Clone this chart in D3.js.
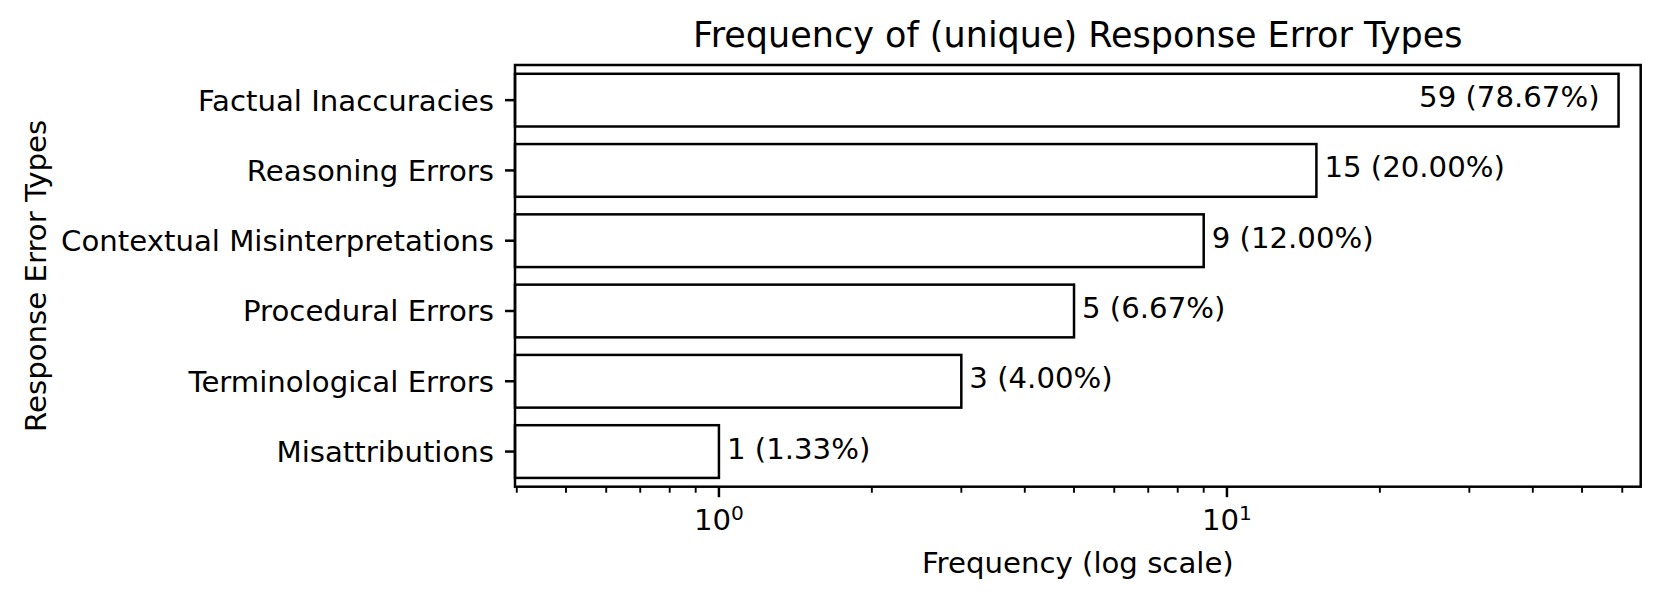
<!DOCTYPE html>
<html>
<head>
<meta charset="utf-8">
<script src="https://cdn.jsdelivr.net/npm/d3@7"></script>
<style>
  html, body { margin: 0; padding: 0; background: #fff; }
  svg text { font-family: "DejaVu Sans", sans-serif; fill: #000; }
</style>
</head>
<body>
<svg id="chart" width="1662" height="600"></svg>
<script>
const categories = ["Factual Inaccuracies", "Reasoning Errors", "Contextual Misinterpretations",
                    "Procedural Errors", "Terminological Errors", "Misattributions"];
const counts = [59, 15, 9, 5, 3, 1];
const percents = ["78.67%", "20.00%", "12.00%", "6.67%", "4.00%", "1.33%"];
const xDomain = [0.3968, 65.23];
const majorTicks = [1, 10];
const majorExponents = ["0", "1"];
const titleText = "Frequency of (unique) Response Error Types";
const xLabelText = "Frequency (log scale)";
const yLabelText = "Response Error Types";

const svg = d3.select("#chart");
const L = 515, R = 1640.7, T = 65, B = 486.7;
const FS = 29.2;
const SW = 2.5;

const x = d3.scaleLog().domain(xDomain).range([L, R]);
const y = d3.scaleBand().domain(categories).range([T, B]).paddingInner(0.25).paddingOuter(0.125);

// bars
svg.append("g").selectAll("rect").data(categories).join("rect")
  .attr("x", x(xDomain[0]))
  .attr("y", d => y(d))
  .attr("width", (d, i) => x(counts[i]) - x(xDomain[0]))
  .attr("height", y.bandwidth())
  .attr("fill", "#fff")
  .attr("stroke", "#000")
  .attr("stroke-width", SW);

// annotations
svg.append("g").selectAll("text").data(categories).join("text")
  .attr("x", (d, i) => i === 0 ? x(counts[i]) - 19 : x(counts[i]) + 8)
  .attr("y", d => y(d) + y.bandwidth() / 2 + 7)
  .attr("text-anchor", (d, i) => i === 0 ? "end" : "start")
  .attr("font-size", FS)
  .text((d, i) => `${counts[i]} (${percents[i]})`);

// frame
svg.append("rect").attr("x", L).attr("y", T).attr("width", R - L).attr("height", B - T)
  .attr("fill", "none").attr("stroke", "#000").attr("stroke-width", SW);

// y ticks
const yc = d => y(d) + y.bandwidth() / 2;
const gy = svg.append("g");
gy.selectAll("line").data(categories).join("line")
  .attr("x1", L - 10).attr("x2", L).attr("y1", yc).attr("y2", yc)
  .attr("stroke", "#000").attr("stroke-width", SW);
gy.selectAll("text").data(categories).join("text")
  .attr("x", 494).attr("y", d => yc(d) + 10.5)
  .attr("text-anchor", "end").attr("font-size", FS)
  .text(d => d);

// x ticks
const minor = x.ticks().filter(v => majorTicks.indexOf(v) < 0 && v >= xDomain[0] && v <= xDomain[1]);
const gx = svg.append("g");
gx.selectAll("line.minor").data(minor).join("line").attr("class", "minor")
  .attr("x1", d => x(d)).attr("x2", d => x(d)).attr("y1", B).attr("y2", B + 6)
  .attr("stroke", "#000").attr("stroke-width", 1.9);
gx.selectAll("line.major").data(majorTicks).join("line").attr("class", "major")
  .attr("x1", d => x(d)).attr("x2", d => x(d)).attr("y1", B).attr("y2", B + 10.5)
  .attr("stroke", "#000").attr("stroke-width", SW);
const lab = gx.selectAll("text").data(majorTicks).join("text")
  .attr("x", d => x(d)).attr("y", 530)
  .attr("text-anchor", "middle").attr("font-size", FS);
lab.append("tspan").text("10");
lab.append("tspan").attr("font-size", 20.2).attr("dy", -10).text((d, i) => majorExponents[i]);

// axis labels
svg.append("text").attr("x", (L + R) / 2).attr("y", 573)
  .attr("text-anchor", "middle").attr("font-size", FS).text(xLabelText);
svg.append("text").attr("transform", `translate(46,${(T + B) / 2}) rotate(-90)`)
  .attr("text-anchor", "middle").attr("font-size", FS).text(yLabelText);

// title
svg.append("text").attr("x", (L + R) / 2).attr("y", 47)
  .attr("text-anchor", "middle").attr("font-size", 35).text(titleText);
</script>
</body>
</html>
